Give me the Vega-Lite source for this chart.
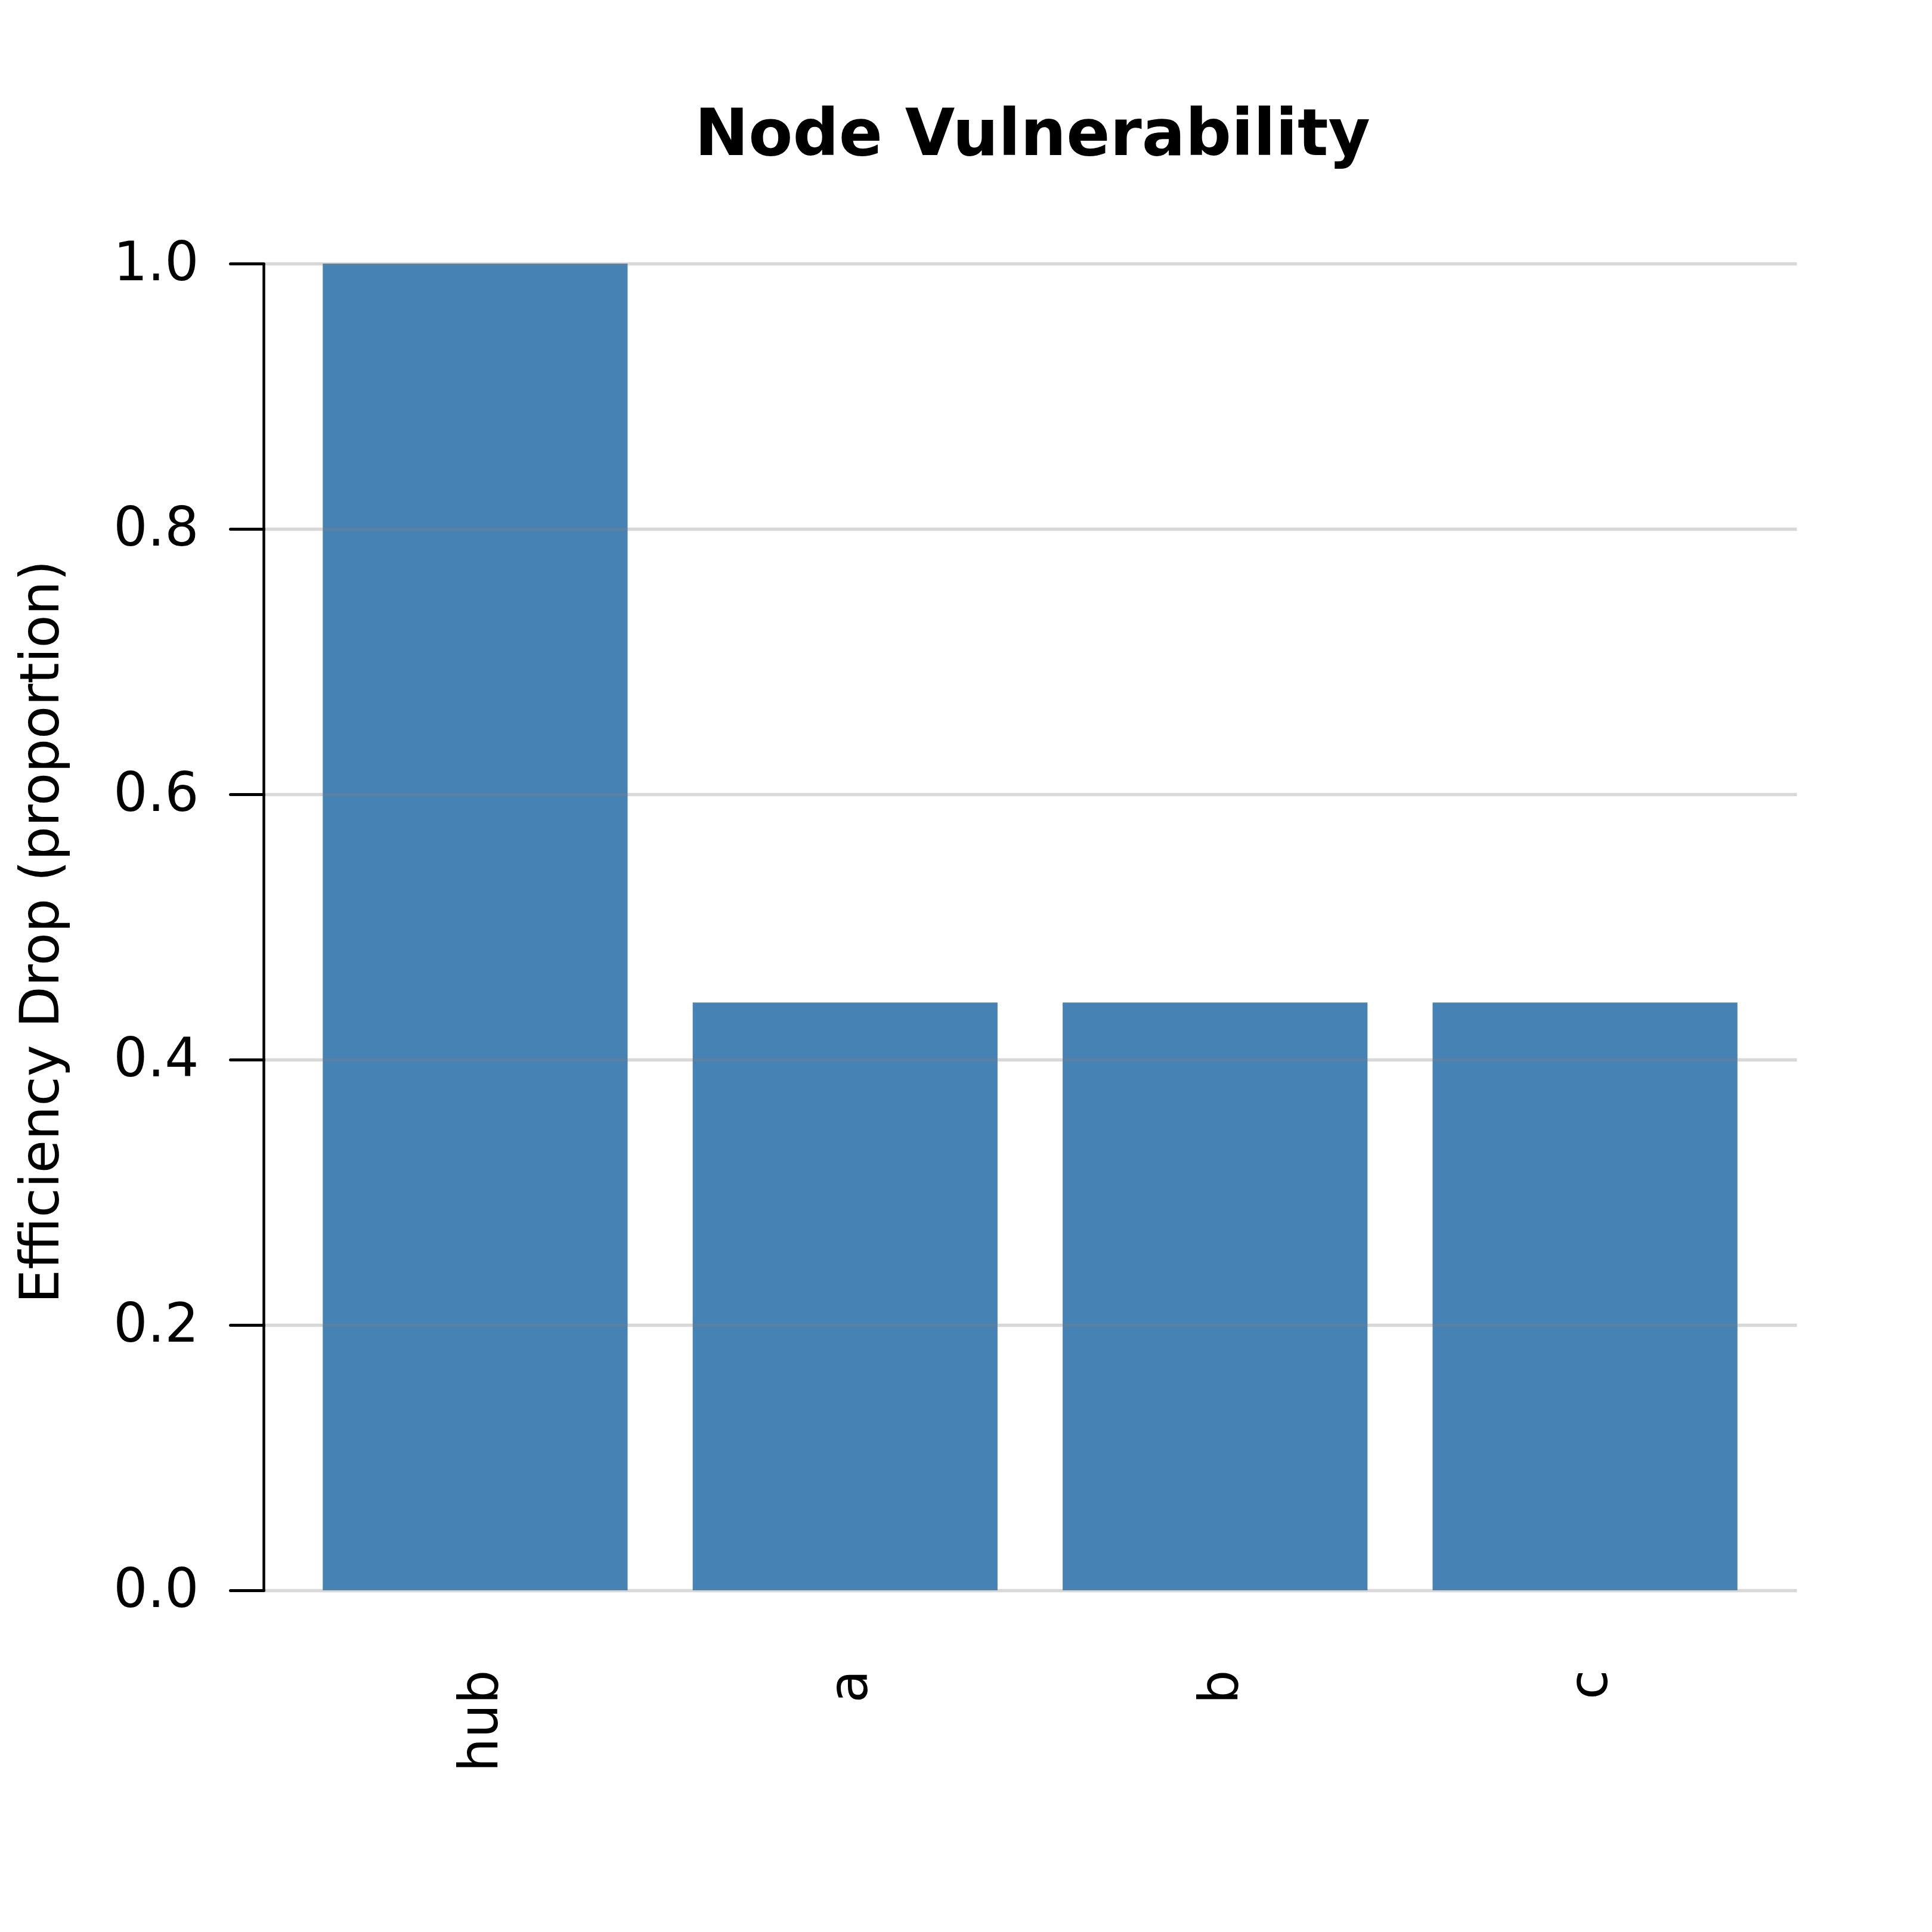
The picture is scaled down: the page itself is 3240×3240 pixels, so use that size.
{
  "$schema": "https://vega.github.io/schema/vega-lite/v6.json",
  "autosize": {"type": "none"},
  "padding": {"left": 442, "top": 442, "right": 227, "bottom": 573},
  "width": 2571,
  "height": 2225,
  "background": "white",
  "title": {
    "text": "Node Vulnerability",
    "font": "DejaVu Sans",
    "fontSize": 108,
    "fontWeight": "bold",
    "color": "black",
    "anchor": "middle",
    "frame": "group",
    "baseline": "alphabetic",
    "offset": 29,
    "dx": 4
  },
  "data": {
    "values": [
      {"node": "hub", "drop": 1.0},
      {"node": "a", "drop": 0.443},
      {"node": "b", "drop": 0.443},
      {"node": "c", "drop": 0.443}
    ]
  },
  "mark": {"type": "bar", "color": "#4682b4"},
  "encoding": {
    "x": {
      "field": "node",
      "type": "nominal",
      "sort": null,
      "scale": {"paddingInner": 0.176, "paddingOuter": 0.16},
      "axis": {
        "title": null,
        "domain": false,
        "ticks": false,
        "grid": false,
        "labelAngle": 270,
        "labelPadding": 133,
        "labelOffset": 10,
        "labelFont": "DejaVu Sans",
        "labelFontSize": 90,
        "labelColor": "black"
      }
    },
    "y": {
      "field": "drop",
      "type": "quantitative",
      "scale": {"domain": [0, 1], "nice": false},
      "axis": {
        "title": "Efficiency Drop (proportion)",
        "titleFont": "DejaVu Sans",
        "titleFontSize": 90,
        "titleFontWeight": "normal",
        "titleColor": "black",
        "titleAngle": -90,
        "titleBaseline": "alphabetic",
        "titleX": -345,
        "titleY": 1120,
        "values": [0, 0.2, 0.4, 0.6, 0.8, 1.0],
        "format": ".1f",
        "labelFont": "DejaVu Sans",
        "labelFontSize": 90,
        "labelColor": "black",
        "labelPadding": 53,
        "labelFlush": false,
        "labelOverlap": false,
        "domainColor": "black",
        "domainWidth": 4.5,
        "tickColor": "black",
        "tickWidth": 5,
        "tickSize": 56,
        "tickCap": "round",
        "grid": true,
        "gridColor": "#808080",
        "gridOpacity": 0.31,
        "gridWidth": 5.5,
        "zindex": 1
      }
    }
  },
  "config": {
    "view": {"stroke": null}
  }
}
